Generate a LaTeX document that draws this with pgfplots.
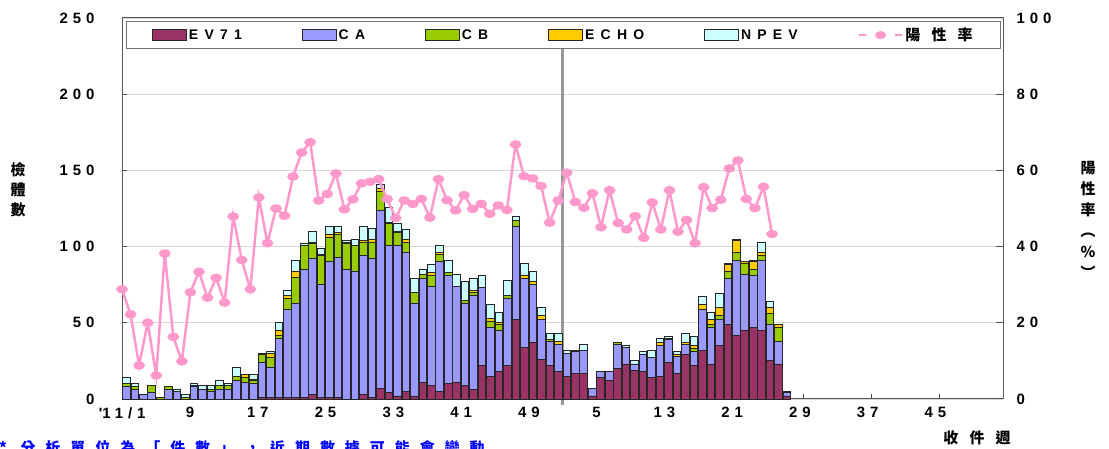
\documentclass[border=0pt]{standalone}
\usepackage{pgfplots}
\pgfplotsset{compat=1.18}
\usepackage{pgfplotstable}
\usepackage{fontspec}
\setmainfont{Liberation Sans}
\newfontfamily\numfont[LetterSpace=33]{Liberation Sans}
\newfontfamily\legfont[LetterSpace=45]{Liberation Sans}
\newfontfamily\cjk{Noto Sans CJK TC}
\newfontfamily\cjksp[LetterSpace=75]{Noto Sans CJK TC}
\newfontfamily\cjkfoot[LetterSpace=67]{Noto Sans CJK TC}

\definecolor{ev}{HTML}{993366}
\definecolor{ca}{HTML}{9999FF}
\definecolor{cb}{HTML}{99CC00}
\definecolor{echo}{HTML}{FFCC00}
\definecolor{npev}{HTML}{CCFFFF}
\definecolor{rate}{HTML}{FF99CC}

\pgfplotsset{
  mybar/.style={fill=#1, draw=black!85, line width=0.8bp,
    legend image code/.code={\draw[##1] (0bp,-5.5bp) rectangle (34bp,5.5bp);}},
  rateleg/.style={legend image code/.code={\draw[mark repeat=2,mark phase=2,##1] plot coordinates {(0bp,0bp)(18bp,0bp)(36bp,0bp)};}},
}

\pgfplotstableread{
i ev ca cb echo npev
0 0 8 2 0 4
1 0 6 2 0 2
2 0 3 0 0 0
3 0 4 5 0 0
4 0 0 1 0 0
5 0 6 2 0 0
6 0 5 0 0 1
7 0 0 1 0 2
8 0 8 1 0 1
9 0 6 0 0 3
10 0 5 1 0 3
11 0 6 3 0 3
12 0 6 3 0 1
13 0 12 3 0 6
14 0 11 3 2 0
15 0 10 2 1 3
16 1 23 5 0 1
17 1 20 6 3 1
18 1 39 2 3 5
19 1 58 7 2 3
20 1 62 17 4 7
21 1 84 16 0 1
22 3 89 10 1 7
23 1 74 19 1 4
24 1 89 16 2 5
25 1 92 15 1 4
26 0 85 17 1 1
27 0 84 17 0 4
28 3 91 9 1 9
29 1 91 11 2 7
30 7 117 12 2 3
31 4 97 14 1 10
32 2 99 8 1 5
33 5 91 7 2 6
34 2 61 7 0 9
35 11 68 3 0 3
36 9 65 7 2 5
37 5 85 5 1 5
38 10 71 2 0 8
39 11 63 0 0 8
40 9 54 2 0 12
41 6 62 2 1 8
42 22 51 0 0 8
43 15 32 4 2 9
44 18 27 4 1 7
45 22 44 2 0 10
46 52 61 4 0 3
47 34 45 0 2 8
48 37 38 0 2 7
49 26 26 0 3 5
50 22 16 1 0 4
51 18 18 0 2 5
52 15 15 0 0 2
53 17 14 0 0 1
54 17 15 0 0 4
55 2 5 0 0 0
56 14 4 0 0 0
57 12 6 0 0 0
58 20 16 1 0 0
59 23 11 0 0 1
60 19 4 0 0 2
61 18 11 0 0 2
62 14 13 0 0 5
63 15 20 0 2 3
64 24 15 1 0 1
65 17 11 0 1 2
66 29 7 0 1 6
67 22 9 2 2 6
68 32 27 0 3 5
69 23 24 2 3 5
70 35 17 3 5 9
71 49 30 5 4 1
72 42 49 5 8 1
73 45 37 7 1 0
74 47 34 4 5 1
75 45 46 3 2 7
76 25 24 7 4 4
77 23 15 9 2 0
78 2 2 0 0 1
}\bars

\pgfplotstableread{
i r
0 28.8
1 22.2
2 8.8
3 20.0
4 6.2
5 38.2
6 16.3
7 9.9
8 28.0
9 33.4
10 26.6
11 31.8
12 25.3
13 47.9
14 36.5
15 28.8
16 52.9
17 40.9
18 50.0
19 48.1
20 58.4
21 64.7
22 67.4
23 52.1
24 53.8
25 59.2
26 49.8
27 52.4
28 56.6
29 57.0
30 57.7
31 52.5
32 47.5
33 52.1
34 51.2
35 52.5
36 47.6
37 57.7
38 52.2
39 49.5
40 53.5
41 49.9
42 51.2
43 48.6
44 50.8
45 49.6
46 66.8
47 58.5
48 57.9
49 55.9
50 46.3
51 52.1
52 59.4
53 51.7
54 50.2
55 54.0
56 45.1
57 54.8
58 46.2
59 44.5
60 48.0
61 42.3
62 51.6
63 44.5
64 54.8
65 43.9
66 47.0
67 40.9
68 55.6
69 50.1
70 52.3
71 60.5
72 62.6
73 52.5
74 50.1
75 55.7
76 43.3
}\rate

\begin{document}
\begin{tikzpicture}[x=1bp,y=1bp]
\useasboundingbox (0,0) rectangle (1109,449);
\begin{axis}[
  at={(122bp,50bp)}, anchor=south west, scale only axis,
  width=881bp, height=381bp,
  xmin=-0.5, xmax=103.5, ymin=0, ymax=250,
  ybar stacked, bar width=7.6bp,
  ytick={0,50,...,250}, ytick pos=left,
  xtick={0,8,...,96}, xtick pos=bottom,
  xticklabels={\textquotesingle 11/1,9,17,25,33,41,49,5,13,21,29,37,45},
  tick align=inside, major tick length=5bp,
  ymajorgrids, grid style={black!16, line width=0.8bp},
  axis line style={black!65, line width=1bp},
  tick style={black!70, line width=1bp},
  ticklabel style={font=\numfont\bfseries\fontsize{15}{18}\selectfont},
  /pgf/number format/assume math mode=true,
  yticklabel style={xshift=-24bp},
  xticklabel style={yshift=-5bp, xshift=-4bp},
  clip=false,
  legend columns=6,
  legend cell align=left,
  legend style={at={(0.501,0.992)}, anchor=north, draw=black!55, line width=0.8bp,
    fill=white, font=\legfont\bfseries\fontsize{14}{16}\selectfont,
    /tikz/every even column/.append style={column sep=58bp},
    inner xsep=26bp, inner ysep=4.5bp},
]
\addplot[mybar=ev] table[x=i,y=ev]{\bars};
\addlegendentry{EV71}
\addplot[mybar=ca] table[x=i,y=ca]{\bars};
\addlegendentry{CA}
\addplot[mybar=cb] table[x=i,y=cb]{\bars};
\addlegendentry{CB}
\addplot[mybar=echo] table[x=i,y=echo]{\bars};
\addlegendentry{ECHO}
\addplot[mybar=npev] table[x=i,y=npev]{\bars};
\addlegendentry{NPEV}
\addlegendimage{rate, line width=2bp, mark=*, mark size=3bp, mark options={xscale=1.5, fill=rate, draw=rate}, rateleg}
\addlegendentry{\cjksp\fontsize{15}{16}\selectfont 陽性率}
\draw[black!40, line width=2.2bp] (axis cs:51.5,-3.9) -- (axis cs:51.5,231);
\end{axis}
\begin{axis}[
  at={(122bp,50bp)}, anchor=south west, scale only axis,
  width=881bp, height=381bp,
  xmin=0, xmax=103, ymin=0, ymax=100,
  hide x axis, y axis line style={draw=none},
  ytick={0,20,...,100}, ytick pos=right, yticklabel pos=right,
  tick align=inside, major tick length=7bp,
  tick style={black!70, line width=1bp},
  ticklabel style={font=\numfont\bfseries\fontsize{15}{18}\selectfont},
  /pgf/number format/assume math mode=true,
  yticklabel style={xshift=10bp},
  clip=false,
]
\addplot[rate, line width=2.5bp, mark=*, mark size=3bp, mark options={xscale=1.5, fill=rate, draw=rate}] table[x=i,y=r]{\rate};
\end{axis}
\node[font=\cjk\bfseries\fontsize{15}{20}\selectfont, align=center] at (18,259) {檢\\體\\數};
\node[font=\cjk\bfseries\fontsize{15}{21}\selectfont, align=center] at (1088,229) {陽\\性\\率\\︵\\\%\\︶};
\node[font=\cjksp\bfseries\fontsize{15}{18}\selectfont] at (977,11) {收件週};
\node[anchor=base west, inner sep=0, text=blue, font=\cjkfoot\bfseries\fontsize{15}{18}\selectfont] at (-1,-4.5) {* 分析單位為「件數」，近期數據可能會變動};
\end{tikzpicture}
\end{document}
